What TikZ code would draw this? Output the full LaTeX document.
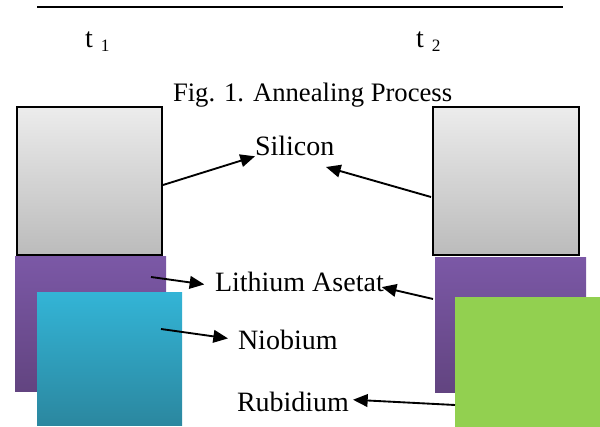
\documentclass[tikz,border=0pt]{standalone}
\usepackage{fontspec}
\setmainfont{Liberation Serif}
\usetikzlibrary{arrows.meta}
\definecolor{siltop}{HTML}{ECECEC}
\definecolor{silbot}{HTML}{BBBBBB}
\definecolor{littop}{HTML}{7B58A6}
\definecolor{litbot}{HTML}{624480}
\definecolor{niotop}{HTML}{33B4D6}
\definecolor{niobot}{HTML}{2B879F}
\definecolor{rubgreen}{HTML}{92D050}
\begin{document}
\begin{tikzpicture}[x=0.75pt,y=-0.75pt,
    lbl/.style={anchor=base west, inner sep=0pt, outer sep=0pt, font=\fontsize{21}{25}\selectfont},
    layer/.style={anchor=north west, inner sep=0pt, outer sep=0pt, minimum width=#1},
    arr/.style={-{Triangle[length=11pt,width=9.5pt]}, line width=1.4pt}]
\useasboundingbox (0,0) rectangle (600,427);

\draw[line width=1pt] (37,7) -- (563,7);

\node[lbl] (t1) at (85,48) {t\hspace{6pt}\raisebox{-3pt}{\fontsize{13}{15}\selectfont 1}};
\node[lbl] (t2) at (416,48) {t\hspace{6pt}\raisebox{-3pt}{\fontsize{13}{15}\selectfont 2}};
\node[lbl, font=\fontsize{20}{24}\selectfont] (caption) at (173,102) {Fig. 1. Annealing Process};

% layers at t1
\node[layer=108.75pt, minimum height=111pt, draw=black, line width=1.2pt,
      top color=siltop, bottom color=silbot] (si1) at (17,107) {};
\node[layer=113.25pt, minimum height=101.25pt, top color=littop, bottom color=litbot] (li1) at (15,257) {};
\node[layer=108.75pt, minimum height=99.75pt, top color=niotop, bottom color=niobot] (nb1) at (37,293) {};

% layers at t2
\node[layer=109.5pt, minimum height=111pt, draw=black, line width=1.2pt,
      top color=siltop, bottom color=silbot] (si2) at (433,107) {};
\node[layer=113.25pt, minimum height=101.25pt, top color=littop, bottom color=litbot] (li2) at (435,258) {};
\node[layer=108.75pt, minimum height=97.5pt, fill=rubgreen] (rb2) at (455,297) {};

% labels
\node[lbl] (silicon) at (255,156) {Silicon};
\node[lbl] (lithium) at (215,292) {Lithium Asetat};
\node[lbl] (niobium) at (238,350) {Niobium};
\node[lbl] (rubidium) at (237,412) {Rubidium};

\coordinate (si1tail) at (163,185);
\coordinate (si2tail) at (431,197);
\coordinate (si2head) at (326,167);
\coordinate (li1tail) at (151,277);
\coordinate (li2tail) at (433,299);
\coordinate (nb1tail) at (161,329);
\coordinate (rb2tail) at (455,405);

\draw[arr] (si1tail) -- (silicon.south west);
\draw[arr] (si2tail) -- (si2head);
\draw[arr] (li1tail) -- ([xshift=-8pt,yshift=-1.5pt]lithium.west);
\draw[arr] (li2tail) -- ([xshift=-1.5pt,yshift=-3.5pt]lithium.east);
\draw[arr] (nb1tail) -- ([xshift=-7.5pt,yshift=1.5pt]niobium.west);
\draw[arr] (rb2tail) -- ([xshift=3pt,yshift=2pt]rubidium.east);
\end{tikzpicture}
\end{document}
